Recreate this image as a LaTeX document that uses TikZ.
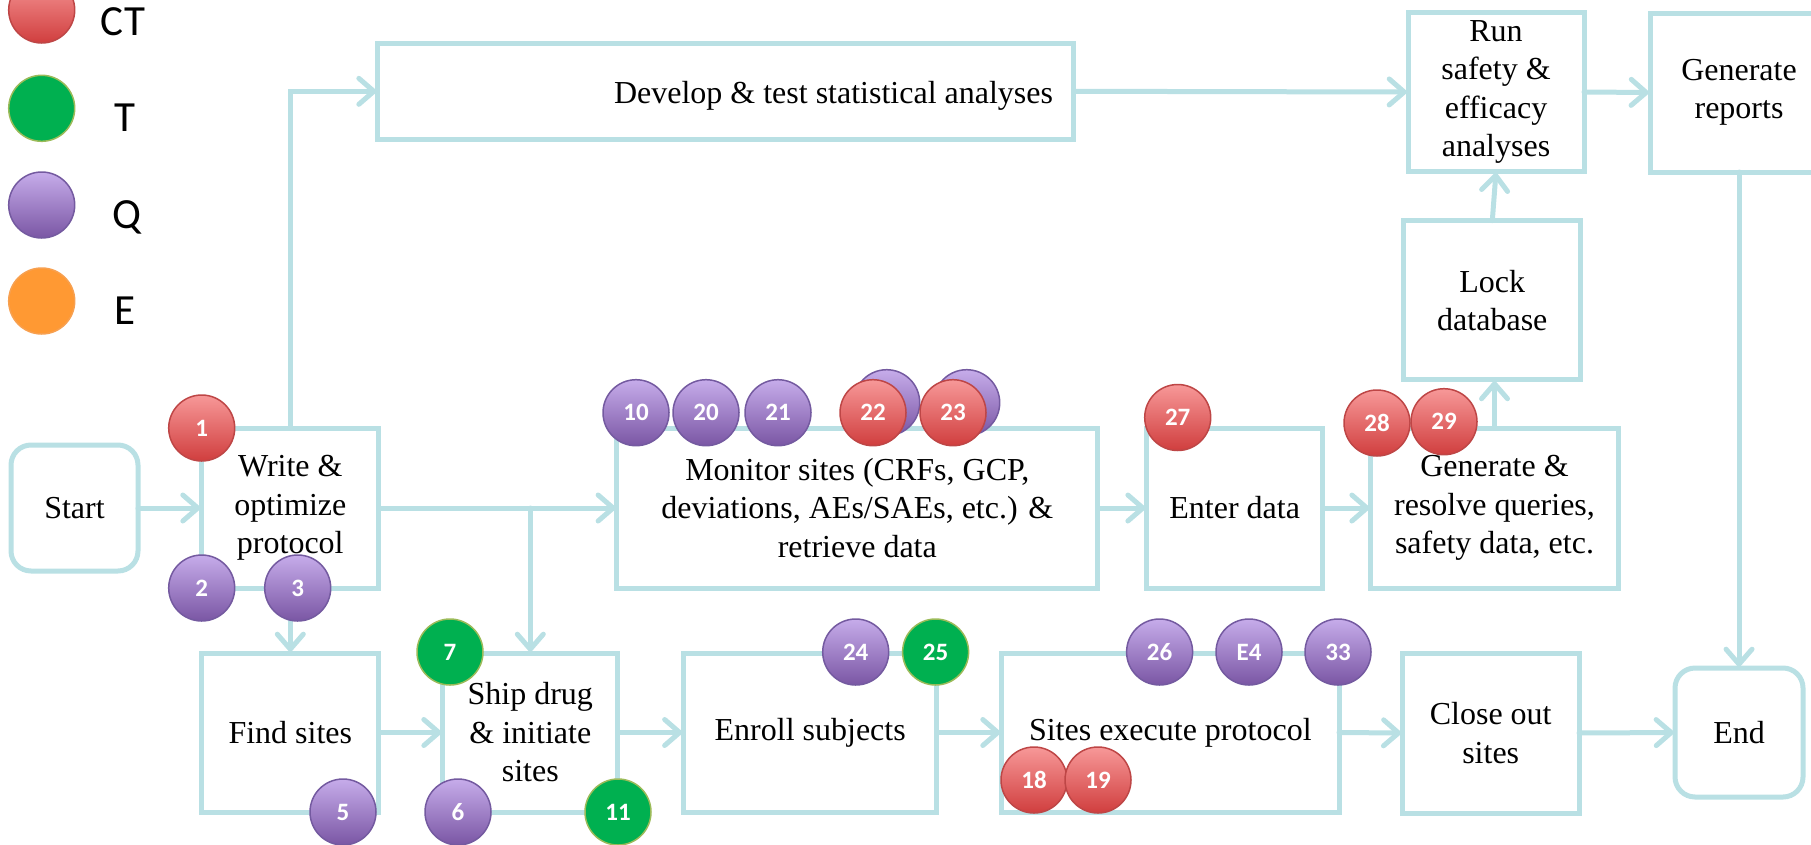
\documentclass[tikz,border=0pt]{standalone}
\usepackage{fontspec}
\setmainfont{Liberation Serif}
\newfontfamily\calib{Carlito}
\usetikzlibrary{arrows.meta,calc}
\definecolor{lnc}{RGB}{185,224,228}
\definecolor{cttop}{RGB}{247,152,152}
\definecolor{ctbot}{RGB}{208,62,62}
\definecolor{ctbd}{RGB}{190,70,70}
\definecolor{qtop}{RGB}{198,172,234}
\definecolor{qbot}{RGB}{122,86,164}
\definecolor{qbd}{RGB}{116,90,160}
\definecolor{tfill}{RGB}{0,176,80}
\definecolor{tbd}{RGB}{155,187,89}
\definecolor{efill}{RGB}{255,153,51}
\definecolor{ebd}{RGB}{247,160,80}
\begin{document}
\begin{tikzpicture}[x=1pt,y=-1pt,
  box/.style={draw=lnc, line width=5pt, rectangle, outer sep=0pt, inner sep=0pt, align=center, font=\fontsize{32}{38.5}\selectfont, fill=white},
  rbox/.style={box, rounded corners=20pt},
  arr/.style={draw=lnc, line width=5pt, line cap=round, -{Straight Barb[length=15pt,width=26pt,line cap=round]}},
  plain/.style={draw=lnc, line width=5pt, line cap=round},
  bub/.style={circle, minimum size=66pt, inner sep=0pt, line width=1.5pt, font=\calib\bfseries\fontsize{25}{25}\selectfont, text=white},
  ct/.style={bub, draw=ctbd, top color=cttop, bottom color=ctbot},
  qq/.style={bub, draw=qbd, top color=qtop, bottom color=qbot},
  tt/.style={bub, draw=tbd, fill=tfill},
  ee/.style={bub, draw=ebd, fill=efill},
  legend/.style={font=\calib\fontsize{43}{43}\selectfont, anchor=base, inner sep=0pt}
]
\useasboundingbox (0,0) rectangle (1811,844);

% legend
\node[ct] (lct) at (41.7,10) {};
\node[tt] (ltt) at (41.7,108.3) {};
\node[qq] (lqq) at (41.7,205) {};
\node[ee] (lee) at (41.7,301) {};
\node[legend] (lctt) at (123,35) {CT};
\node[legend] (lttt) at (125,131) {T};
\node[legend] (lqqt) at (127,228) {Q};
\node[legend] (leet) at (125,324) {E};

% boxes
\node[rbox, minimum width=127pt, minimum height=126pt] (start) at (74.5,508) {Start};
\node[box, minimum width=177.3pt, minimum height=160pt] (write) at (290.3,508) {Write \&\\optimize\\protocol};
\node[box, minimum width=177.3pt, minimum height=159pt] (find) at (290.3,732.5) {Find sites};
\node[box, minimum width=175.3pt, minimum height=159pt] (ship) at (530.3,732.5) {Ship drug\\\& initiate\\sites};
\node[box, minimum width=253.5pt, minimum height=159pt] (enroll) at (810.2,732.5) {Enroll subjects};
\node[box, minimum width=337.4pt, minimum height=159pt] (sites) at (1170.3,732.5) {Sites execute protocol};
\node[box, minimum width=176.7pt, minimum height=160pt] (close) at (1490.7,733) {Close out\\sites};
\node[rbox, minimum width=128pt, minimum height=129pt] (end) at (1739,732.5) {End};
\node[box, minimum width=480.7pt, minimum height=160pt] (monitor) at (857.3,508) {Monitor sites (CRFs, GCP,\\deviations, AEs/SAEs, etc.) \&\\retrieve data};
\node[box, minimum width=176pt, minimum height=160pt] (enter) at (1234.7,508) {Enter data};
\node[box, minimum width=247.6pt, minimum height=160pt] (genres) at (1494.5,508) {Generate \&\\resolve queries,\\safety data, etc.};
\node[box, minimum width=176.7pt, minimum height=159.3pt] (lock) at (1492.3,300.3) {Lock\\database};
\node[box, minimum width=176pt, minimum height=159.4pt] (run) at (1496,92) {Run\\safety \&\\efficacy\\analyses};
\node[box, minimum width=178pt, minimum height=159pt] (genrep) at (1739,92.5) {Generate\\reports};
\node[box, minimum width=696.3pt, minimum height=96pt] (develop) at (725.8,91.3) {};
\node[font=\fontsize{32}{38.5}\selectfont, anchor=base, inner sep=0pt] (devtext) at (833.5,103) {Develop \& test statistical analyses};

% connectors
\coordinate (br) at (write.east -| ship.north);
\draw[arr] (start.east) -- (write.west);
\draw[arr] (write.east) -- (monitor.west);
\draw[arr] (br) -- (ship.north);
\draw[arr] (write.north) |- (develop.west);
\draw[arr] (write.south) -- (find.north);
\draw[arr] (find.east) -- (ship.west);
\draw[arr] (ship.east) -- (enroll.west);
\draw[arr] (enroll.east) -- (sites.west);
\draw[arr] (sites.east) -- (close.west);
\draw[arr] (close.east) -- (end.west);
\draw[arr] (monitor.east) -- (enter.west);
\draw[arr] (enter.east) -- (genres.west);
\draw[arr] (genres.north) -- (genres.north |- lock.south);
\draw[arr] (lock.north) -- (run.south);
\draw[arr] (develop.east) -- (run.west);
\draw[arr] (run.east) -- (genrep.west);
\draw[arr] (genrep.south) -- (end.north);

% markers
\node[ct] (c1) at (201.7,428) {1};
\node[qq] (c2) at (201.7,588) {2};
\node[qq] (c3) at (297.7,588) {3};
\node[qq] (c5) at (343,812) {5};
\node[qq] (c6) at (458,812) {6};
\node[tt] (c7) at (450,652) {7};
\node[tt] (c11) at (618,812) {11};
\node[qq] (c10) at (636,412.7) {10};
\node[qq] (c20) at (706,412.7) {20};
\node[qq] (c21) at (778,412.7) {21};
\node[qq] (c22b) at (886.7,402.7) {};
\node[ct] (c22) at (873,412.7) {22};
\node[qq] (c23b) at (966.7,402.7) {};
\node[ct] (c23) at (953,412.7) {23};
\node[ct] (c27) at (1177.7,417.5) {27};
\node[ct] (c28) at (1377,423) {28};
\node[ct] (c29) at (1444,421.7) {29};
\node[qq] (c24) at (855.7,652) {24};
\node[tt] (c25) at (935.6,652) {25};
\node[qq] (c26) at (1159.6,652) {26};
\node[qq] (ce4) at (1249,652) {E4};
\node[qq] (c33) at (1338,652) {33};
\node[ct] (c18) at (1034,780) {18};
\node[ct] (c19) at (1098,780) {19};
\end{tikzpicture}
\end{document}
